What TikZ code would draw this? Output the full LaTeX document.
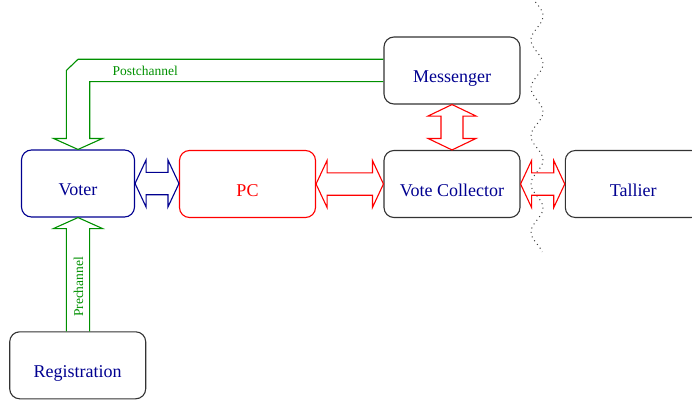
\documentclass[tikz,border=0pt]{standalone}
\usepackage{fontspec}
\setmainfont{Liberation Serif}
\usetikzlibrary{calc}
\definecolor{fblue}{RGB}{0,0,144}
\definecolor{fgreen}{RGB}{0,144,0}
\definecolor{fred}{RGB}{255,0,0}
\begin{document}
\begin{tikzpicture}[x=1pt,y=-1pt,
  box/.style={draw=black!80, line width=1.1pt, rounded corners=10pt,
    minimum width=136pt, minimum height=67pt, inner sep=0pt,
    text height=24pt, text depth=0pt,
    font=\fontsize{18}{20}\selectfont, text=fblue},
  arr/.style={line width=1.1pt, line join=miter},
  lbl/.style={font=\fontsize{13.5}{15}\selectfont, text=fgreen, inner sep=0pt},
  dots/.style={line width=1pt, black!75, dash pattern=on 1pt off 3.6pt},
  harr/.style={to path={let \p1=(\tikztostart), \p2=(\tikztotarget) in
    (\x1,\y1) -- ++(11pt,23.5pt) -- ++(0,-12.3pt) -- (\x2-11pt,\y1+11.2pt)
    -- ++(0,12.3pt) -- (\x2,\y1) -- ++(-11pt,-23.5pt) -- ++(0,12.3pt)
    -- (\x1+11pt,\y1-11.2pt) -- ++(0,-12.3pt) -- cycle}},
  varr/.style={to path={let \p1=(\tikztostart), \p2=(\tikztotarget) in
    (\x1,\y1) -- ++(24pt,-11.5pt) -- ++(-13pt,0) -- (\x1+11pt,\y2+11.5pt)
    -- ++(13pt,0) -- (\x2,\y2) -- ++(-24pt,11.5pt) -- ++(13pt,0)
    -- (\x1-11pt,\y1-11.5pt) -- ++(-13pt,0) -- cycle}}
]
\clip (0,0) rectangle (692,401);

% boxes
\node[box, draw=fblue, minimum width=113pt] (voter) at (78,183.5) {Voter};
\node[box, draw=fred, text=fred] (pc) at (247.5,184) {PC};
\node[box] (vc) at (452,184) {Vote Collector};
\node[box] (messenger) at (452,70.5) {Messenger};
\node[box] (tallier) at (633.3,184) {Tallier};
\node[box] (registration) at (77.7,365.3) {Registration};

% separation line
\draw[dots] plot[domain=2:252, samples=126, variable=\u]
  ({537-6*cos(7.5*(\u-40))}, {\u});

% double arrows
\draw[arr, fblue] (voter.east) to[harr] (pc.west);
\draw[arr, fred] (pc.east) to[harr] (vc.west);
\draw[arr, fred] (vc.east) to[harr] (tallier.west);
\draw[arr, fred] (messenger.south) to[varr] (vc.north);

% prechannel
\draw[arr, fgreen] let \p1=(registration.north), \p2=(voter.south) in
  (\x2-11.6pt,\y1) -- (\x2-11.6pt,\y2-11pt) -- (\x2-24.5pt,\y2-11pt)
  -- (\x2,\y2) -- (\x2+24.5pt,\y2-11pt) -- (\x2+11.6pt,\y2-11pt)
  -- (\x2+11.6pt,\y1);
\node[lbl, rotate=90] (prelbl) at (78.5,287) {Prechannel};

% postchannel
\draw[arr, fgreen] let \p1=(messenger.west), \p2=(voter.north) in
  (\x1,\y1+11.2pt) -- (\x2,\y1+11.2pt) -- (\x2-11.7pt,\y1)
  -- (\x2-11.7pt,\y2+11pt) -- (\x2-24.5pt,\y2+11pt) -- (\x2,\y2)
  -- (\x2+24.5pt,\y2+11pt) -- (\x2+11.7pt,\y2+11pt)
  -- (\x2+11.7pt,\y1-11.2pt) -- (\x1,\y1-11.2pt);
\node[lbl] (postlbl) at (145.2,71) {Postchannel};
\end{tikzpicture}
\end{document}
